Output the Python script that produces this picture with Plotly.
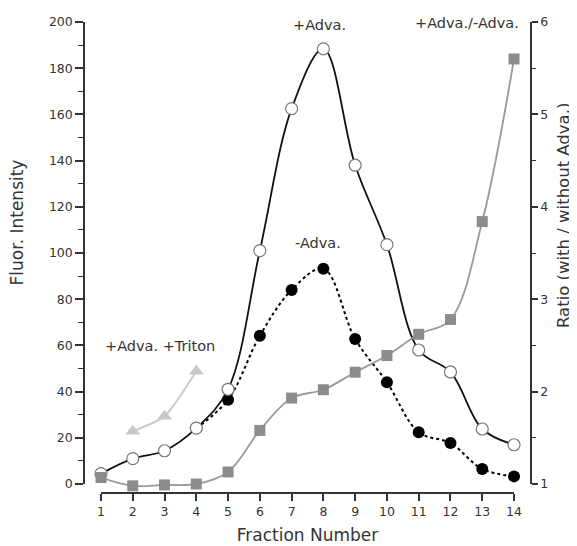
import plotly.graph_objects as go

fractions = list(range(1, 15))
plus_adva = [4.5, 11, 14.4, 24.2, 41, 101, 162.5, 188.4, 138, 103.6, 58, 48.5, 23.8, 17]
minus_x = [4, 5, 6, 7, 8, 9, 10, 11, 12, 13, 14]
minus_adva = [24.2, 36.5, 64.2, 84, 93.2, 62.8, 44, 22.4, 17.7, 6.5, 3.3]
ratio = [1.07, 0.98, 0.99, 1.0, 1.13, 1.58, 1.93, 2.02, 2.21, 2.39, 2.62, 2.78, 3.84, 5.6]
triton_x = [2, 3, 4]
triton = [22.8, 29.3, 48.8]

FONT = "DejaVu Sans, Verdana, sans-serif"
TXT = "#333333"
AX = "#333333"

fig = go.Figure()

# empty traces so that the display axes (y3, y4) are drawn
fig.add_trace(go.Scatter(x=[], y=[], xaxis="x", yaxis="y3", showlegend=False, hoverinfo="skip"))
fig.add_trace(go.Scatter(x=[], y=[], xaxis="x", yaxis="y4", showlegend=False, hoverinfo="skip"))

fig.add_trace(go.Scatter(
    x=fractions, y=ratio, xaxis="x", yaxis="y2", mode="lines+markers",
    line=dict(color="#9a9a9a", width=1.8, shape="spline", smoothing=1),
    marker=dict(symbol="square", size=11, color="#8c8c8c"),
    cliponaxis=False, showlegend=False))

fig.add_trace(go.Scatter(
    x=triton_x, y=triton, xaxis="x", yaxis="y", mode="lines+markers",
    line=dict(color="#c8c8c8", width=2, shape="spline", smoothing=0.6),
    marker=dict(symbol="triangle-up", size=13, color="#c8c8c8"),
    cliponaxis=False, showlegend=False))

fig.add_trace(go.Scatter(
    x=minus_x, y=minus_adva, xaxis="x", yaxis="y", mode="lines+markers",
    line=dict(color="#000000", width=2, dash="dot", shape="spline", smoothing=1),
    marker=dict(symbol="circle", size=12, color="#000000"),
    cliponaxis=False, showlegend=False))

fig.add_trace(go.Scatter(
    x=fractions, y=plus_adva, xaxis="x", yaxis="y", mode="lines+markers",
    line=dict(color="#111111", width=1.8, shape="spline", smoothing=1),
    marker=dict(symbol="circle", size=12, color="#ffffff", line=dict(color="#777777", width=1.2)),
    cliponaxis=False, showlegend=False))

tickfont = dict(size=12.5, color=TXT, family=FONT)
titlefont = dict(size=17, color=TXT, family=FONT)
rtitlefont = dict(size=16.5, color=TXT, family=FONT)

fig.update_layout(
    width=577, height=546,
    margin=dict(l=76, r=54, t=14, b=61),
    paper_bgcolor="white", plot_bgcolor="rgba(0,0,0,0)",
    font=dict(family=FONT, color=TXT, size=12),
    xaxis=dict(
        domain=[0.038, 0.962], range=[1, 14], anchor="free", position=0, automargin=False,
        tickmode="array", tickvals=fractions, ticks="outside", ticklen=7, tickwidth=1.5,
        tickcolor=AX, showline=True, linecolor=AX, linewidth=1.5,
        showgrid=False, zeroline=False,
        title=dict(text="Fraction Number", font=titlefont, standoff=10),
        tickfont=tickfont),
    yaxis=dict(domain=[0, 1], range=[-3.896, 200], visible=False, automargin=False,
               anchor="x", showgrid=False, zeroline=False),
    yaxis2=dict(overlaying="y", range=[0.9026, 6], visible=False, automargin=False,
                anchor="x", showgrid=False, zeroline=False),
    yaxis3=dict(
        domain=[0.01911, 1], range=[0, 200], anchor="free", position=0, automargin=False,
        tickmode="linear", tick0=0, dtick=20, ticks="outside", ticklen=8, tickwidth=1.5,
        tickcolor=AX, showline=True, linecolor=AX, linewidth=1.5,
        minor=dict(dtick=10, ticks="outside", ticklen=5, tickcolor=AX, tickwidth=1.2),
        showgrid=False, zeroline=False, tickfont=tickfont),
    yaxis4=dict(
        overlaying="y3", side="right", range=[1, 6], anchor="free", position=1, automargin=False,
        tickmode="linear", tick0=1, dtick=1, ticks="outside", ticklen=6, tickwidth=1.5,
        tickcolor=AX, showline=True, linecolor=AX, linewidth=1.5,
        minor=dict(dtick=0.5, ticks="outside", ticklen=4, tickcolor=AX, tickwidth=1.2),
        showgrid=False, zeroline=False, tickfont=tickfont),
    annotations=[
        dict(text="Fluor. Intensity", x=-0.1488, y=0.5754, xref="paper", yref="paper",
             xanchor="center", yanchor="middle",
             textangle=-90, showarrow=False, font=titlefont),
        dict(text="Ratio (with / without Adva.)", x=1.0716, y=0.5881, xref="paper", yref="paper",
             xanchor="center", yanchor="middle",
             textangle=-90, showarrow=False, font=rtitlefont),
        dict(text="+Adva.", x=7.87, y=198.7, xref="x", yref="y", showarrow=False,
             xanchor="center", yanchor="middle", font=dict(size=14.5, color=TXT)),
        dict(text="-Adva.", x=7.84, y=104.3, xref="x", yref="y", showarrow=False,
             xanchor="center", yanchor="middle", font=dict(size=14.5, color=TXT)),
        dict(text="+Adva./-Adva.", x=12.53, y=199.6, xref="x", yref="y", showarrow=False,
             xanchor="center", yanchor="middle", font=dict(size=14.5, color=TXT)),
        dict(text="+Adva. +Triton", x=2.86, y=59.7, xref="x", yref="y", showarrow=False,
             xanchor="center", yanchor="middle", font=dict(size=14.5, color=TXT)),
    ],
)

fig.write_html("out.html")
